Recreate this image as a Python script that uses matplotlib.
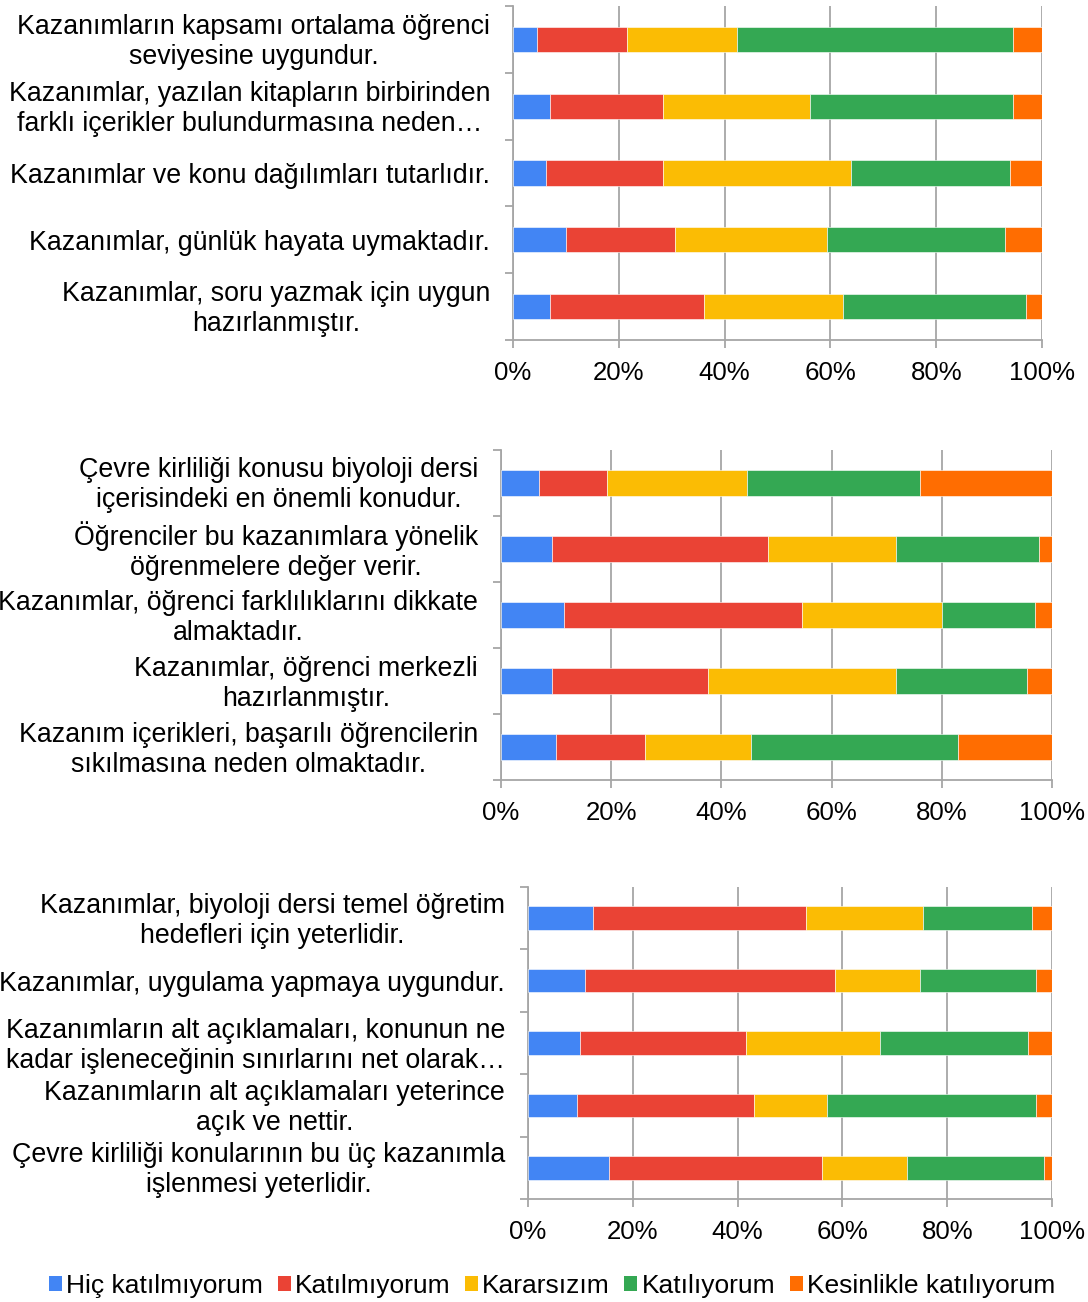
import matplotlib
matplotlib.use("Agg")
import matplotlib.pyplot as plt
import matplotlib.transforms as mtransforms
from matplotlib.patches import Patch
import numpy as np

plt.rcParams['font.family'] = ['Liberation Sans', 'DejaVu Sans']

series_names = ["Hiç katılmıyorum", "Katılmıyorum", "Kararsızım", "Katılıyorum", "Kesinlikle katılıyorum"]
colors = ["#4285F4", "#EA4335", "#FBBC04", "#34A853", "#FF6D01"]

# Panel 1 (top to bottom)
labels1 = [
    "Kazanımların kapsamı ortalama öğrenci\nseviyesine uygundur.",
    "Kazanımlar, yazılan kitapların birbirinden\nfarklı içerikler bulundurmasına neden…",
    "Kazanımlar ve konu dağılımları tutarlıdır.",
    "Kazanımlar, günlük hayata uymaktadır.",
    "Kazanımlar, soru yazmak için uygun\nhazırlanmıştır.",
]
hic1 = [4.6, 7.0, 6.2, 10.1, 7.0]
kat_degil1 = [17.0, 21.4, 22.2, 20.6, 29.2]
kararsiz1 = [20.8, 27.8, 35.4, 28.6, 26.1]
katil1 = [52.2, 38.4, 30.1, 33.8, 34.6]
kesin1 = [5.4, 5.4, 6.1, 6.9, 3.1]

# Panel 2
labels2 = [
    "Çevre kirliliği konusu biyoloji dersi\niçerisindeki en önemli konudur.",
    "Öğrenciler bu kazanımlara yönelik\nöğrenmelere değer verir.",
    "Kazanımlar, öğrenci farklılıklarını dikkate\nalmaktadır.",
    "Kazanımlar, öğrenci merkezli\nhazırlanmıştır.",
    "Kazanım içerikleri, başarılı öğrencilerin\nsıkılmasına neden olmaktadır.",
]
hic2 = [6.9, 9.3, 11.5, 9.3, 10.0]
kat_degil2 = [12.3, 39.1, 43.1, 28.3, 16.1]
kararsiz2 = [25.4, 23.2, 25.4, 34.0, 19.3]
katil2 = [31.5, 26.1, 16.9, 23.8, 37.6]
kesin2 = [23.9, 2.3, 3.1, 4.6, 17.0]

# Panel 3
labels3 = [
    "Kazanımlar, biyoloji dersi temel öğretim\nhedefleri için yeterlidir.",
    "Kazanımlar, uygulama yapmaya uygundur.",
    "Kazanımların alt açıklamaları, konunun ne\nkadar işleneceğinin sınırlarını net olarak…",
    "Kazanımların alt açıklamaları yeterince\naçık ve nettir.",
    "Çevre kirliliği konularının bu üç kazanımla\nişlenmesi yeterlidir.",
]
hic3 = [12.4, 10.8, 10.0, 9.3, 15.4]
kat_degil3 = [40.7, 47.7, 31.6, 33.8, 40.8]
kararsiz3 = [22.3, 16.3, 25.5, 13.9, 16.2]
katil3 = [20.8, 22.2, 28.4, 40.0, 26.1]
kesin3 = [3.8, 3.0, 4.5, 3.0, 1.5]

xticks = [0, 20, 40, 60, 80, 100]
xticklabels = ["0%", "20%", "40%", "60%", "80%", "100%"]

W, H = 1088, 1302
fig = plt.figure(figsize=(W / 100, H / 100), dpi=100)

def px_axes(left, right, top, bottom):
    return fig.add_axes([left / W, 1 - bottom / H, (right - left) / W, (bottom - top) / H])

panels = [
    (px_axes(513, 1042, 6, 340), labels1, [hic1, kat_degil1, kararsiz1, katil1, kesin1]),
    (px_axes(501, 1052, 450, 780), labels2, [hic2, kat_degil2, kararsiz2, katil2, kesin2]),
    (px_axes(528, 1052, 887, 1199), labels3, [hic3, kat_degil3, kararsiz3, katil3, kesin3]),
]

gray = "#a6a6a6"
FS_Y = 19.3
FS_X = 18.6
shift = mtransforms.ScaledTranslation(0, 2.5 / 100, fig.dpi_scale_trans)
for ax, labels, data in panels:
    n = len(labels)
    y = np.arange(n)
    data = np.array(data, dtype=float)
    totals = data.sum(axis=0)
    pct = data / totals * 100
    left = np.zeros(n)
    for i in range(len(series_names)):
        ax.barh(y, pct[i], left=left, height=0.38, color=colors[i],
                edgecolor="white", linewidth=0.4, zorder=3)
        left += pct[i]
    ax.set_xlim(0, 100)
    ax.set_ylim(n - 0.5, -0.5)
    ax.set_xticks(xticks)
    ax.set_xticklabels(xticklabels, fontsize=FS_X)
    ax.grid(axis="x", color=gray, linewidth=1.3, zorder=0)
    # category labels as minor ticks, boundaries as major ticks
    ax.set_yticks(np.arange(n + 1) - 0.5)
    ax.set_yticklabels([])
    ax.set_yticks(y, minor=True)
    ax.set_yticklabels(labels, minor=True, fontsize=FS_Y, multialignment="center",
                       linespacing=1.2)
    ax.tick_params(axis="y", which="minor", length=0, pad=16.5)
    ax.tick_params(axis="y", which="major", length=5.8, width=1.3, color=gray)
    ax.tick_params(axis="x", length=5.8, width=1.3, color=gray, pad=9.5)
    for lbl in ax.get_yticklabels(minor=True):
        if "\n" in lbl.get_text():
            lbl.set_transform(lbl.get_transform() + shift)
    for s in ["top", "right"]:
        ax.spines[s].set_visible(False)
    for s in ["left", "bottom"]:
        ax.spines[s].set_color(gray)
        ax.spines[s].set_linewidth(1.3)

handles = [Patch(facecolor=c, edgecolor="none") for c in colors]
fig.legend(handles, series_names, loc="center", bbox_to_anchor=(552 / W, 1 - 1286 / H),
           ncol=5, frameon=False, fontsize=19, handlelength=0.5, handleheight=0.5,
           handletextpad=0.15, columnspacing=0.55, borderpad=0)

fig.savefig("out.png", dpi=100, facecolor="white")
